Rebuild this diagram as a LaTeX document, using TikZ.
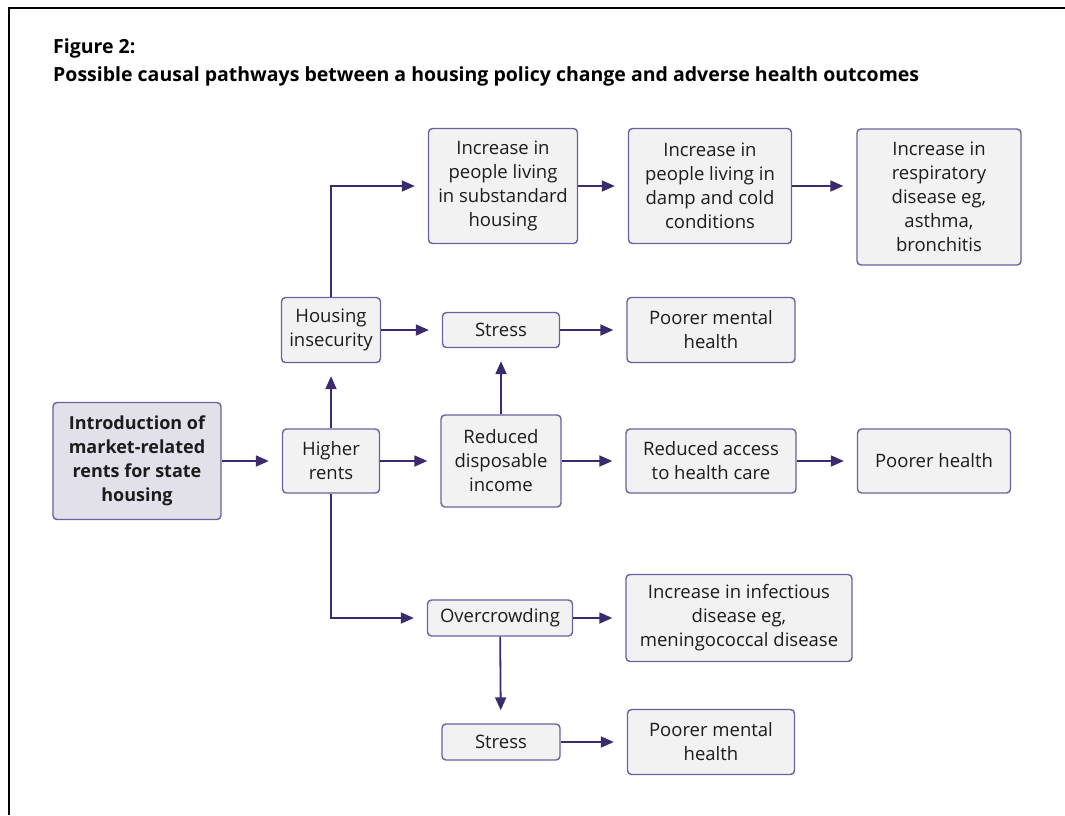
\documentclass[tikz,border=0pt]{standalone}
\usepackage{fontspec}
\setmainfont{Open Sans}
\usetikzlibrary{arrows.meta}

\definecolor{boxline}{HTML}{6E5FA0}
\definecolor{boxfill}{HTML}{F2F2F3}
\definecolor{startfill}{HTML}{E2E0E8}
\definecolor{arrowcol}{HTML}{3B2A6E}
\definecolor{textcol}{HTML}{1C1C1C}

\tikzset{
  box/.style={draw=boxline, fill=boxfill, rounded corners=4pt, line width=1.4pt,
    align=center, inner sep=0pt, text=textcol, font=\fontsize{18.5}{24}\selectfont},
  startbox/.style={box, fill=startfill, font=\bfseries\fontsize{18}{24}\selectfont},
  arr/.style={draw=arrowcol, line width=1.8pt, shorten >=13pt,
    -{Triangle[length=13pt, width=11pt]}}
}

\begin{document}
\begin{tikzpicture}[x=1pt, y=-1pt]
        \useasboundingbox (0,0) rectangle (1065,815);
        \draw[line width=2pt] (9,815) -- (9,8) -- (1065,8);
        \node[anchor=base west, inner sep=0pt, font=\bfseries\fontsize{19.5}{24}\selectfont] (fig) at (53,53) {Figure 2:};
        \node[anchor=base west, inner sep=0pt, font=\bfseries\fontsize{19.5}{24}\selectfont] (title) at (53,81)
          {Possible causal pathways between a housing policy change and adverse health outcomes};

        \node[startbox, minimum width=168, minimum height=117] (intro) at (137,461) {Introduction of\\market-related\\rents for state\\housing};
        \node[box, minimum width=97, minimum height=64] (rents) at (331,461) {Higher\\rents};
        \node[box, minimum width=99, minimum height=65] (insec) at (331,330) {Housing\\insecurity};
        \node[box, minimum width=149, minimum height=115] (subst) at (503,186) {Increase in\\people living\\in substandard\\housing};
        \node[box, minimum width=163, minimum height=115] (damp) at (710,186) {Increase in\\people living in\\damp and cold\\conditions};
        \node[box, minimum width=164, minimum height=136] (resp) at (939,197) {Increase in\\respiratory\\disease eg,\\asthma,\\bronchitis};
        \node[box, minimum width=117, minimum height=35] (stressA) at (501,330) {Stress};
        \node[box, minimum width=168, minimum height=65] (mentalA) at (711,330) {Poorer mental\\health};
        \node[box, minimum width=120, minimum height=92] (income) at (501,461) {Reduced\\disposable\\income};
        \node[box, minimum width=170, minimum height=64] (access) at (711,461) {Reduced access\\to health care};
        \node[box, minimum width=153, minimum height=64] (health) at (934,461) {Poorer health};
        \node[box, minimum width=145, minimum height=36] (crowd) at (500,618) {Overcrowding};
        \node[box, minimum width=226, minimum height=87] (infect) at (739,618) {Increase in infectious\\disease eg,\\meningococcal disease};
        \node[box, minimum width=118, minimum height=36] (stressB) at (501,742) {Stress};
        \node[box, minimum width=167, minimum height=65] (mentalB) at (711,742) {Poorer mental\\health};

        \draw[arr] (intro) -- (rents);
        \draw[arr] (rents) -- (income);
        \draw[arr] (rents) -- (insec);
        \draw[arr] (insec.north) |- (subst.west);
        \draw[arr] (insec) -- (stressA);
        \draw[arr] (stressA) -- (mentalA);
        \draw[arr] (income) -- (stressA);
        \draw[arr] (income) -- (access);
        \draw[arr] (access) -- (health);
        \draw[arr] (subst) -- (damp);
        \draw[arr] (damp.east) -- (damp.east -| resp.west);
        \draw[arr] (rents.south) |- (crowd.west);
        \draw[arr] (crowd) -- (infect);
        \draw[arr] (crowd) -- (stressB);
        \draw[arr] (stressB) -- (mentalB);
    \end{tikzpicture}
\end{document}
